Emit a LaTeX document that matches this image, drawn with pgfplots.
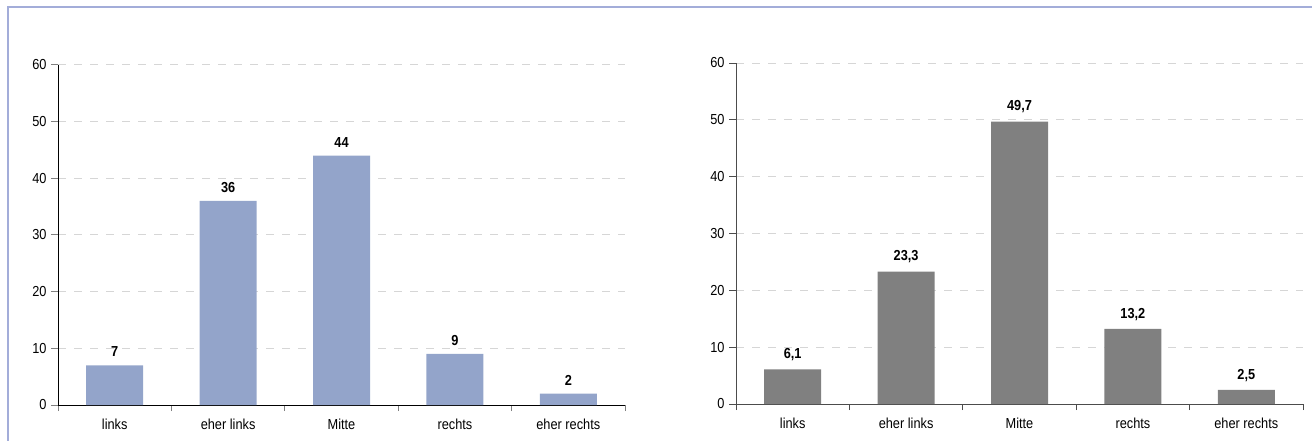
\documentclass[border=0pt]{standalone}
\usepackage{fontspec}
\setmainfont{Liberation Sans}[FakeStretch=0.88]
\usepackage{pgfplots}
\pgfplotsset{compat=1.18}
\definecolor{barblue}{HTML}{93A4CA}
\definecolor{bargrey}{HTML}{808080}
\definecolor{framec}{HTML}{A3ADD9}
\definecolor{gridc}{HTML}{D6D6D6}
\pgfplotsset{
  mybars/.style={
    scale only axis,
    width=567bp,
    xmin=-0.5, xmax=4.5, ymin=0, ymax=60,
    axis x line*=bottom, axis y line*=left,
    axis line style={line width=1bp},
    x axis line style={-}, y axis line style={-},
    ytick={0,10,...,60},
    xtick={0,1,2,3,4},
    xticklabels={links,eher links,Mitte,rechts,eher rechts},
    major x tick style={draw=none},
    minor xtick={-0.5,0.5,1.5,2.5,3.5,4.5},
    minor x tick style={line width=1bp},
    minor tick length=6bp,
    major tick length=7bp,
    tick align=outside,
    ytick style={line width=1bp},
    ymajorgrids,
    major grid style={gridc, line width=1bp, dash pattern=on 8bp off 8bp},
    tick label style={font=\fontsize{14.5bp}{16bp}\selectfont},
    /pgf/number format/assume math mode=true,
    yticklabel style={xshift=-1bp},
    xticklabel style={yshift=-3bp},
    bar width=57bp,
    ybar,
    nodes near coords,
    nodes near coords style={font=\fontsize{14.5bp}{16bp}\selectfont\bfseries, yshift=5bp,
      /pgf/number format/.cd, fixed, precision=1, use comma, assume math mode=true},
    clip=false,
  }
}
\begin{document}
\begin{tikzpicture}
\path[use as bounding box] (0,0) rectangle (1312bp,441bp);
\draw[framec, line width=1.5bp] (8bp,0) -- (8bp,434bp) -- (1312bp,434bp);
\begin{axis}[mybars, at={(58bp,36bp)}, anchor=south west, height=340bp]
\addplot[fill=barblue, draw=none] coordinates {(0,7) (1,36) (2,44) (3,9) (4,2)};
\end{axis}
\begin{axis}[mybars, at={(736bp,37bp)}, anchor=south west, height=341bp,
  axis line style={line width=1bp, draw=black!70}, ytick style={line width=1bp, draw=black!70},
  minor x tick style={line width=1bp, draw=black!70}]
\addplot[fill=bargrey, draw=none] coordinates {(0,6.1) (1,23.3) (2,49.7) (3,13.2) (4,2.5)};
\end{axis}
\end{tikzpicture}
\end{document}
